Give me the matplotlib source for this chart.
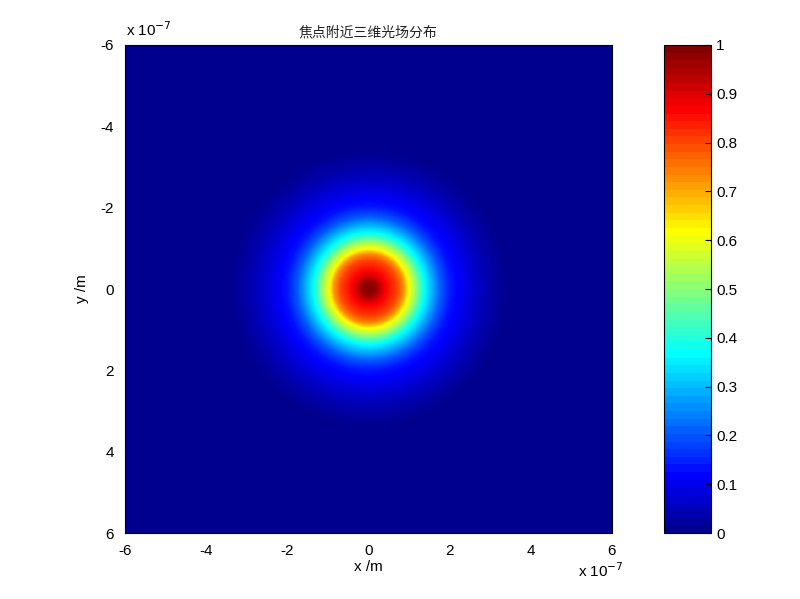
import numpy as np
import matplotlib
matplotlib.use("Agg")
import matplotlib.pyplot as plt
from matplotlib.cm import ScalarMappable
from matplotlib.colors import Normalize, LinearSegmentedColormap

plt.rcParams['font.family'] = ['Liberation Sans', 'Noto Sans CJK SC', 'DejaVu Sans']

# radial intensity profile (radius in units of 1e-7 m)
r_samples = [0.0, 0.18, 0.40, 0.71, 0.87, 0.97, 1.10, 1.24, 1.37, 1.53, 1.77, 2.03, 2.29, 2.63, 3.08, 3.42, 6.0, 9.0]
i_samples = [1.0, 0.97, 0.88, 0.80, 0.72, 0.62, 0.55, 0.45, 0.37, 0.30, 0.20, 0.13, 0.10, 0.06, 0.02, 0.0, 0.0, 0.0]

ticks = [-6, -4, -2, 0, 2, 4, 6]
cbar_ticks = [0, 0.1, 0.2, 0.3, 0.4, 0.5, 0.6, 0.7, 0.8, 0.9, 1]
title = "焦点附近三维光场分布"

# MATLAB style jet
mjet = LinearSegmentedColormap.from_list("mjet", [
    (0.0, (0, 0, 0.5625)), (7 / 63, (0, 0, 1)), (23 / 63, (0, 1, 1)),
    (39 / 63, (1, 1, 0)), (55 / 63, (1, 0, 0)), (1.0, (0.5, 0, 0))])

x = np.linspace(-6, 6, 401)
X, Y = np.meshgrid(x, x)
R = np.sqrt(X**2 + Y**2)
I = np.interp(R, r_samples, i_samples)

fig = plt.figure(figsize=(8, 5.99), dpi=100)
ax = fig.add_axes([0.156, 0.110, 0.609, 0.815])
cax = fig.add_axes([0.830, 0.110, 0.059, 0.815])

im = ax.imshow(I, cmap=mjet, vmin=0, vmax=1,
               extent=[-6e-7, 6e-7, 6e-7, -6e-7], aspect='auto')
ax.set_xticks([t * 1e-7 for t in ticks])
ax.set_xticklabels([str(t) for t in ticks])
ax.set_yticks([t * 1e-7 for t in ticks])
ax.set_yticklabels([str(t) for t in ticks])
ax.tick_params(direction='in', labelsize=11, length=0, pad=8)
ax.set_xlabel("x /m", fontsize=11, labelpad=1)
ax.set_ylabel("y /m", fontsize=11, labelpad=8)
ax.set_title(title, fontsize=10, pad=6, color='#222222')

fig.text(0.158, 0.935, r"x 10$^{-7}$", fontsize=11, ha='left', va='bottom')
fig.text(0.722, 0.047, r"x 10$^{-7}$", fontsize=11, ha='left', va='center')

sm = ScalarMappable(norm=Normalize(0, 1), cmap=mjet.resampled(64))
cb = fig.colorbar(sm, cax=cax, ticks=cbar_ticks)
cb.ax.set_yticklabels([f"{t:g}" for t in cbar_ticks])
cb.ax.tick_params(direction='in', labelsize=11, length=4)
cb.outline.set_linewidth(0.8)

fig.savefig("out.png", dpi=100)
